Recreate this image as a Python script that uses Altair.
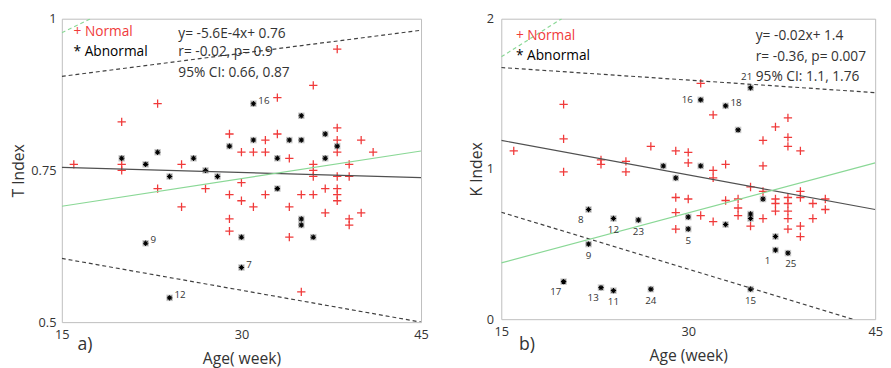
import altair as alt
import pandas as pd

# ---------------- panel a) T Index ----------------
a_norm_x = [16, 20, 20, 20, 23, 23, 25, 25, 27, 29, 29, 29, 29, 30, 30, 30, 31, 31,
            32, 32, 32, 33, 33, 34, 34, 34, 35, 35, 36, 36, 36, 36, 36, 37, 37,
            38, 38, 38, 38, 38, 38, 38, 38, 39, 39, 39, 39, 40, 40, 41]
a_norm_y = [0.76, 0.83, 0.76, 0.75, 0.86, 0.72, 0.76, 0.69, 0.72, 0.81, 0.71, 0.67, 0.65,
            0.78, 0.73, 0.70, 0.78, 0.69, 0.80, 0.78, 0.71, 0.87, 0.81, 0.77, 0.69, 0.64,
            0.71, 0.55, 0.89, 0.76, 0.75, 0.74, 0.71, 0.72, 0.68, 0.95, 0.82, 0.80, 0.78,
            0.74, 0.72, 0.71, 0.70, 0.76, 0.74, 0.67, 0.66, 0.80, 0.68, 0.78]
a_abn_x = [20, 22, 22, 23, 24, 24, 26, 27, 28, 29, 30, 30, 31, 31, 33, 33, 34, 35, 35, 35,
           35, 36, 37, 37, 38]
a_abn_y = [0.77, 0.76, 0.63, 0.78, 0.74, 0.54, 0.77, 0.75, 0.74, 0.79, 0.64, 0.59, 0.86,
           0.80, 0.77, 0.72, 0.80, 0.84, 0.80, 0.67, 0.66, 0.64, 0.81, 0.77, 0.79]
a_abn_label = ["", "", "9", "", "", "12", "", "", "", "", "", "7", "16", "", "", "", "",
               "", "", "", "", "", "", "", ""]
a_abn_place = ["r"] * 25

a_line_x = [15, 45]
a_fit_y = [0.755, 0.738]
a_ci_hi_y = [0.905, 0.981]
a_ci_lo_y = [0.605, 0.500]
a_green_y = [0.691, 0.782]
a_green_ci_x = [15, 17.4]
a_green_ci_y = [0.977, 1.0]
a_eq = ["y= -5.6E-4x+ 0.76", "r= -0.02, p= 0.9", "95% CI: 0.66, 0.87"]

# ---------------- panel b) K Index ----------------
b_norm_x = [16, 20, 20, 20, 23, 23, 25, 25, 27, 29, 29, 29, 29, 30, 30, 30, 31, 31,
            32, 32, 32, 32, 33, 33, 34, 34, 34, 35, 35, 36, 36, 36, 36, 37, 37, 37, 37,
            38, 38, 38, 38, 38, 38, 38, 38, 39, 39, 39, 39, 39, 40, 40, 41, 41]
b_norm_y = [1.12, 1.43, 1.20, 0.98, 1.06, 1.03, 1.05, 0.98, 1.15, 1.12, 0.81, 0.71, 0.60,
            1.11, 1.04, 0.80, 1.57, 0.69, 1.36, 0.99, 0.94, 0.65, 1.03, 0.79, 0.80, 0.74,
            0.69, 0.88, 0.62, 1.19, 1.02, 0.85, 0.67, 1.28, 0.80, 0.77, 0.72, 1.34, 1.21,
            1.15, 0.81, 0.77, 0.72, 0.67, 0.60, 1.12, 0.85, 0.81, 0.62, 0.55, 0.77, 0.67,
            0.80, 0.73]
b_abn_x = [20, 22, 22, 23, 24, 24, 26, 27, 28, 29, 30, 30, 31, 31, 33, 33, 34, 35, 35, 35,
           35, 36, 37, 37, 38]
b_abn_y = [0.25, 0.73, 0.50, 0.21, 0.67, 0.19, 0.66, 0.20, 1.02, 0.94, 0.68, 0.60, 1.46,
           1.02, 1.42, 0.63, 1.26, 1.54, 0.70, 0.67, 0.20, 0.80, 0.55, 0.46, 0.44]
b_abn_label = ["17", "8", "9", "13", "12", "11", "23", "24", "", "", "", "5", "16", "",
               "18", "", "", "21", "", "", "15", "", "", "1", "25"]
b_abn_place = ["bl", "bl", "b", "bl", "b", "b", "b", "b", "b", "b", "b", "b", "l", "b",
               "r", "b", "b", "a", "b", "b", "b", "b", "b", "bl", "br"]

b_line_x = [15, 45]
b_fit_y = [1.19, 0.73]
b_ci_hi_y = [1.675, 1.508]
b_ci_lo_x = [15, 43.2]
b_ci_lo_y = [0.712, 0.0]
b_green_y = [0.375, 1.04]
b_green_ci_x = [15, 19.85]
b_green_ci_y = [1.746, 2.0]
b_eq = ["y= -0.02x+ 1.4", "r= -0.36, p= 0.007", "95% CI: 1.1, 1.76"]

legend_labels = ["+ Normal", "* Abnormal"]

# ---------------- styles ----------------
RED = "#f03a3a"
GREEN = "#8ad896"
DARK = "#404040"
TXT = "#333333"
FONT = "Open Sans"
PLUS = "M-1,0L1,0M0,-1L0,1"
STAR = "M-1,0L1,0M0,-1L0,1M-0.7,-0.7L0.7,0.7M-0.7,0.7L0.7,-0.7"
PLACE = {"r": (5, -3, "left"), "b": (0, 12, "center"), "bl": (-8, 11, "center"),
         "br": (3, 11, "center"), "l": (-8, 0, "right"), "a": (-4, -11, "center")}


def seg(xs, ys, name):
    return pd.DataFrame({"x": xs, "y": ys, "seg": [name] * len(xs)})


def panel(nx, ny, ax, ay, alab, aplace, fit, ci, green, green_ci, ydom, yticks,
          xtitle, ytitle, w, h, eq, eq_x, eq_ys, leg_x, leg_ys, plabel, plabel_xy,
          ylab_pad, ytitle_pad):
    X = alt.X("x:Q", scale=alt.Scale(domain=[15, 45], nice=False, zero=False),
              axis=alt.Axis(values=[15, 30, 45], title=xtitle, grid=False, ticks=False,
                            domain=False, labelFontSize=13, labelColor=TXT, labelPadding=7,
                            labelFlush=False, labelFont=FONT, titleFont=FONT,
                            titleFontSize=16, titleFontWeight="normal", titleColor=TXT,
                            titlePadding=9))
    Y = alt.Y("y:Q", scale=alt.Scale(domain=ydom, nice=False, zero=False),
              axis=alt.Axis(values=yticks, title=ytitle, grid=False, ticks=False,
                            domain=False, labelFontSize=13, labelColor=TXT,
                            labelPadding=ylab_pad, labelFlush=False, labelFont=FONT,
                            labelExpr="datum.value + ''", titleFont=FONT,
                            titleFontSize=16, titleFontWeight="normal", titleColor=TXT,
                            titlePadding=ytitle_pad))
    ndf = pd.DataFrame({"x": nx, "y": ny})
    adf = pd.DataFrame({"x": ax, "y": ay, "label": alab, "place": aplace})

    layers = []
    layers.append(alt.Chart(ndf).mark_point(shape=PLUS, filled=False, stroke=RED,
                                            strokeWidth=1.3, size=72, opacity=1)
                  .encode(x=X, y=Y))
    layers.append(alt.Chart(adf).mark_square(color="#9c9c9c", opacity=0.55, size=44)
                  .encode(x=X, y=Y))
    layers.append(alt.Chart(adf).mark_point(shape=STAR, filled=False, stroke="black",
                                            strokeWidth=1.1, size=30, opacity=1)
                  .encode(x=X, y=Y))
    layers.append(alt.Chart(fit).mark_line(color="#505050", strokeWidth=1.2, clip=True)
                  .encode(x=X, y=Y))
    layers.append(alt.Chart(ci).mark_line(color=DARK, strokeWidth=1.2,
                                          strokeDash=[4, 3], clip=True)
                  .encode(x=X, y=Y, detail="seg:N"))
    layers.append(alt.Chart(green).mark_line(color=GREEN, strokeWidth=1.2, clip=True)
                  .encode(x=X, y=Y))
    layers.append(alt.Chart(green_ci).mark_line(color=GREEN, strokeWidth=1.2,
                                                strokeDash=[4, 3], clip=True)
                  .encode(x=X, y=Y))
    for key, (dx, dy, al) in PLACE.items():
        sub = adf[(adf["label"] != "") & (adf["place"] == key)]
        if len(sub) == 0:
            continue
        layers.append(alt.Chart(sub).mark_text(dx=dx, dy=dy, align=al, baseline="middle",
                                               fontSize=10, font=FONT, color=TXT)
                      .encode(x=X, y=Y, text="label:N"))
    one = pd.DataFrame({"k": [0]})
    for line, yy in zip(eq, eq_ys):
        layers.append(alt.Chart(one).mark_text(text=line, align="left",
                                               baseline="alphabetic", fontSize=14,
                                               font=FONT, color=TXT)
                      .encode(x=alt.value(eq_x), y=alt.value(yy)))
    for lab, yy, col in zip(legend_labels, leg_ys, [RED, "black"]):
        layers.append(alt.Chart(one).mark_text(text=lab, align="left", baseline="middle",
                                               fontSize=14, font=FONT, color=col)
                      .encode(x=alt.value(leg_x), y=alt.value(yy)))
    layers.append(alt.Chart(one).mark_text(text=plabel, align="left",
                                           baseline="alphabetic", fontSize=18,
                                           font=FONT, color=TXT)
                  .encode(x=alt.value(plabel_xy[0]), y=alt.value(plabel_xy[1])))
    return alt.layer(*layers).properties(width=w, height=h)


pa = panel(a_norm_x, a_norm_y, a_abn_x, a_abn_y, a_abn_label, a_abn_place,
           seg(a_line_x, a_fit_y, "fit"),
           pd.concat([seg(a_line_x, a_ci_hi_y, "hi"), seg(a_line_x, a_ci_lo_y, "lo")]),
           seg(a_line_x, a_green_y, "g"), seg(a_green_ci_x, a_green_ci_y, "gc"),
           [0.5, 1.0], [0.5, 0.75, 1.0], "Age( week)", "T Index", 367, 310,
           a_eq, 119, [20, 38, 60], 12, [14, 34], "a)", (16, 338), 6, 4)

pb = panel(b_norm_x, b_norm_y, b_abn_x, b_abn_y, b_abn_label, b_abn_place,
           seg(b_line_x, b_fit_y, "fit"),
           pd.concat([seg(b_line_x, b_ci_hi_y, "hi"), seg(b_ci_lo_x, b_ci_lo_y, "lo")]),
           seg(b_line_x, b_green_y, "g"), seg(b_green_ci_x, b_green_ci_y, "gc"),
           [0.0, 2.0], [0, 1, 2], "Age (week)", "K Index", 382, 307,
           b_eq, 260, [22, 43, 64], 15, [18, 38], "b)", (18, 338), 8, 2)

chart = (alt.hconcat(pa, pb, spacing=40)
         .properties(padding={"left": 2, "top": 0, "right": 0, "bottom": 0})
         .configure_view(stroke="#bdbdbd", strokeWidth=1))

chart.save("out.html", embed_options={"renderer": "svg", "actions": False})
